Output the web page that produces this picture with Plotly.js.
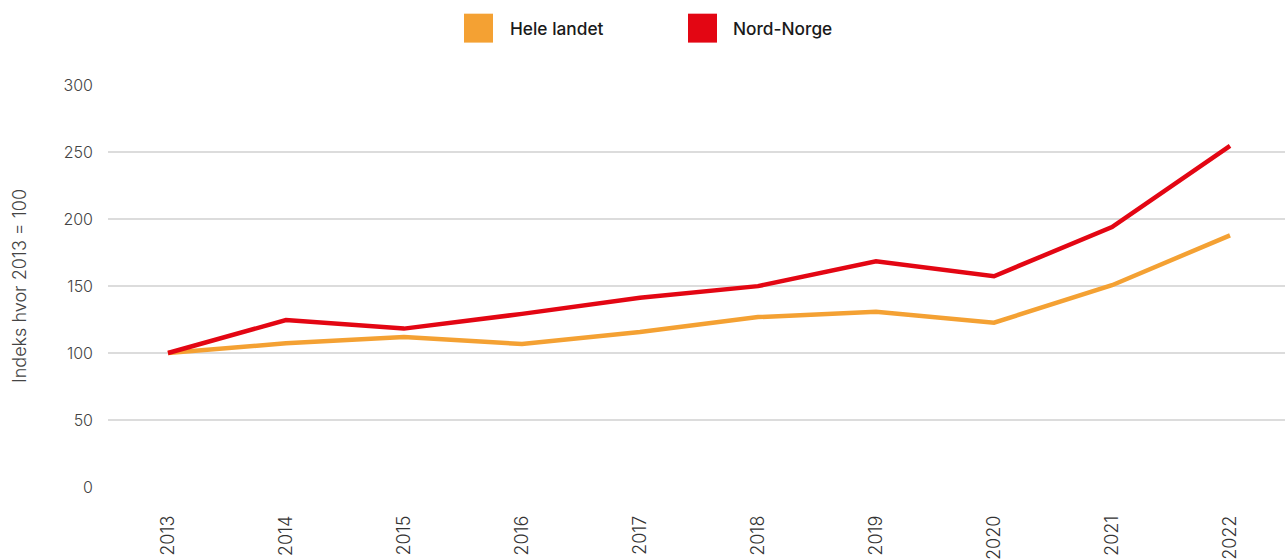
<!DOCTYPE html>
<html>
<head>
<meta charset="utf-8">
<script src="https://cdn.plot.ly/plotly-3.0.1.min.js"></script>
<style>html,body{margin:0;padding:0;background:#fff;}#chart{width:1285px;height:560px;}</style>
</head>
<body>
<div id="chart"></div>
<script>
const years = ["2013","2014","2015","2016","2017","2018","2019","2020","2021","2022"];
const heleLandet = [100, 107.2, 111.9, 106.7, 115.6, 126.8, 130.8, 122.6, 150.6, 187.8];
const nordNorge = [100, 124.6, 118.2, 129.2, 141.2, 149.9, 168.5, 157.3, 194.0, 254.6];
const seriesNames = ["Hele landet", "Nord-Norge"];
const colors = ["#F4A133", "#E30613"];
const yTicks = [0, 50, 100, 150, 200, 250, 300];

const W = 1285, H = 560, L = 108, R = 0, T = 84.5, B = 72.5;
const pw = W - L - R, ph = H - T - B;
const px = v => (v - L) / pw;
const py = v => (H - B - v) / ph;

const traces = [
  {x: years, y: heleLandet, name: seriesNames[0], type: "scatter", mode: "lines",
   line: {color: colors[0], width: 4.5}, showlegend: false, hoverinfo: "x+y"},
  {x: years, y: nordNorge, name: seriesNames[1], type: "scatter", mode: "lines",
   line: {color: colors[1], width: 4.5}, showlegend: false, hoverinfo: "x+y"}
];

const legendItems = [
  {sx: 464, tx: 508},
  {sx: 688, tx: 731}
];
const shapes = [], annotations = [];
legendItems.forEach((it, i) => {
  shapes.push({type: "rect", xref: "paper", yref: "paper",
    x0: px(it.sx), x1: px(it.sx + 29), y0: py(42), y1: py(13),
    fillcolor: colors[i], line: {width: 0}});
  annotations.push({xref: "paper", yref: "paper", x: px(it.tx), y: py(28),
    xanchor: "left", yanchor: "middle", showarrow: false, text: seriesNames[i],
    font: {family: "Inter, sans-serif", size: 17.3, color: "#1a1a1a", weight: 500}});
});

const layout = {
  width: W, height: H,
  margin: {l: L, r: R, t: T, b: B, pad: 0},
  paper_bgcolor: "#fff", plot_bgcolor: "#fff",
  showlegend: false,
  font: {family: "Inter, sans-serif", color: "#444", weight: 300},
  xaxis: {
    type: "category", range: [-0.508, 9.466],
    showgrid: false, zeroline: false, showline: false, ticks: "",
    tickangle: -90, tickfont: {size: 18, color: "#333", weight: 300}, ticklabelstandoff: 24
  },
  yaxis: {
    range: [0, 300], tickvals: yTicks, ticktext: yTicks.map(String),
    showgrid: true, gridcolor: "#dcdcdc", gridwidth: 1.3,
    zeroline: false, showline: false, ticks: "",
    tickfont: {size: 16, color: "#444", weight: 300}, ticklabelstandoff: 14,
    title: {text: "Indeks hvor 2013 = 100", font: {size: 18, color: "#444", weight: 300}, standoff: 32}
  },
  shapes: shapes,
  annotations: annotations
};

Plotly.newPlot("chart", traces, layout, {displayModeBar: false, staticPlot: true});
</script>
</body>
</html>
